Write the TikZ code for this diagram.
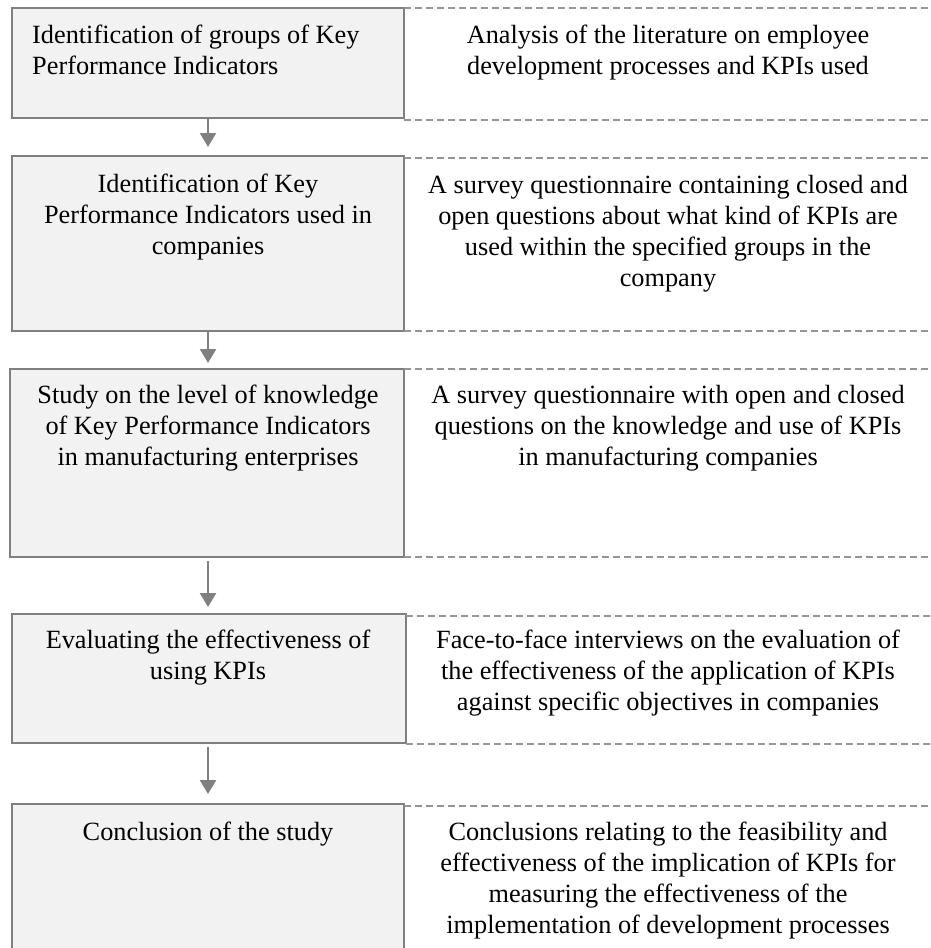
\documentclass[tikz,border=0pt]{standalone}
\usepackage{fontspec}
\setmainfont{Liberation Serif}
\usetikzlibrary{arrows.meta}
\definecolor{boxfill}{HTML}{F2F2F2}
\definecolor{boxline}{HTML}{808080}
\definecolor{dashline}{HTML}{959595}
\begin{document}
\begin{tikzpicture}[x=1pt,y=-1pt,
  stepbox/.style={draw=boxline, fill=boxfill, line width=2pt, anchor=north west, inner sep=0pt, outer sep=0pt},
  txt/.style={font=\fontsize{26.3}{31}\selectfont, align=center, inner sep=0pt, anchor=north},
  guide/.style={draw=dashline, line width=1.3pt, dash pattern=on 6.5pt off 4.5pt},
  arr/.style={draw=boxline, line width=2.5pt, -{Triangle[width=16pt,length=14pt]}}]
\useasboundingbox (0,0) rectangle (931,948);
\clip (0,0) rectangle (931,948);

% left boxes
\node[stepbox, minimum width=392pt, minimum height=110pt] (b1) at (12,8) {};
\node[stepbox, minimum width=392pt, minimum height=175pt] (b2) at (12,156) {};
\node[stepbox, minimum width=394pt, minimum height=188pt] (b3) at (10,369) {};
\node[stepbox, minimum width=394pt, minimum height=129pt] (b4) at (12,614) {};
\node[stepbox, minimum width=392pt, minimum height=170pt] (b5) at (12,804) {};

% dashed guides of the right column
\draw[guide] (b1.north east) -- ++(540,0);
\draw[guide] ([yshift=-2pt]b1.south east) -- ++(540,0);
\draw[guide] ([yshift=-2pt]b2.north east) -- ++(540,0);
\draw[guide] (b2.south east) -- ++(540,0);
\draw[guide] (b3.north east) -- ++(540,0);
\draw[guide] (b3.south east) -- ++(540,0);
\draw[guide] ([yshift=-2pt]b4.north east) -- ++(540,0);
\draw[guide] ([yshift=-1pt]b4.south east) -- ++(540,0);
\draw[guide] ([yshift=-2pt]b5.north east) -- ++(540,0);

% left texts
\node[txt, align=left, anchor=north west] (t1) at (32,25) {Identification of groups of Key\\Performance Indicators};
\node[txt] (t2) at (208,174) {Identification of Key\\Performance Indicators used in\\companies};
\node[txt] (t3) at (208,385) {Study on the level of knowledge\\of Key Performance Indicators\\in manufacturing enterprises};
\node[txt] (t4) at (208,630) {Evaluating the effectiveness of\\using KPIs};
\node[txt] (t5) at (208,822) {Conclusion of the study};

% right texts
\node[txt] (r1) at (668,25) {Analysis of the literature on employee\\development processes and KPIs used};
\node[txt] (r2) at (668,175) {A survey questionnaire containing closed and\\open questions about what kind of KPIs are\\used within the specified groups in the\\company};
\node[txt] (r3) at (668,385) {A survey questionnaire with open and closed\\questions on the knowledge and use of KPIs\\in manufacturing companies};
\node[txt] (r4) at (668,630) {Face-to-face interviews on the evaluation of\\the effectiveness of the application of KPIs\\against specific objectives in companies};
\node[txt] (r5) at (668,822) {Conclusions relating to the feasibility and\\effectiveness of the implication of KPIs for\\measuring the effectiveness of the\\implementation of development processes};

% arrows
\draw[arr, shorten >=9pt] (b1.south) -- (b1.south |- b2.north);
\draw[arr, shorten >=6pt] (b1.south |- b2.south) -- (b1.south |- b3.north);
\draw[arr, shorten <=4pt, shorten >=7pt] (b1.south |- b3.south) -- (b1.south |- b4.north);
\draw[arr, shorten <=4pt, shorten >=10pt] (b1.south |- b4.south) -- (b1.south |- b5.north);
\end{tikzpicture}
\end{document}
